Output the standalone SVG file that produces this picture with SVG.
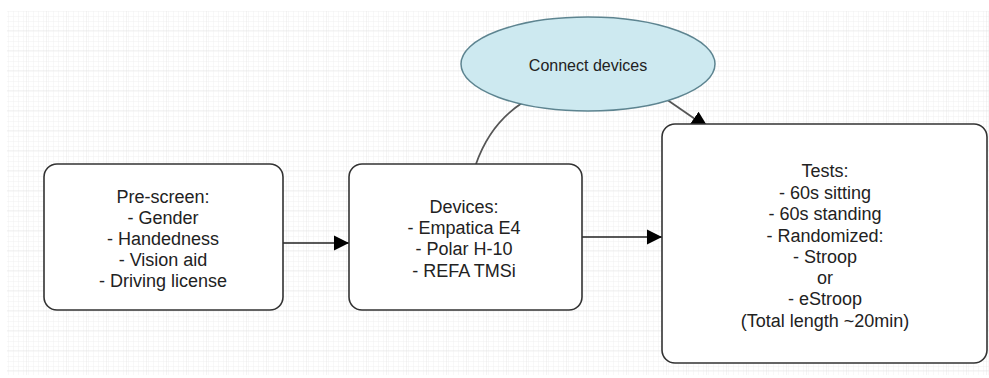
<svg xmlns="http://www.w3.org/2000/svg" width="989" height="378" viewBox="0 0 989 378">
<defs>
<pattern id="minor" width="5" height="5" patternUnits="userSpaceOnUse" x="7" y="11">
<path d="M5 0 V5 M0 5 H5" fill="none" stroke="#ececec" stroke-width="0.8"/>
</pattern>
<pattern id="major" width="20" height="20" patternUnits="userSpaceOnUse" x="7" y="11">
<rect width="20" height="20" fill="url(#minor)"/>
<path d="M20 0 V20 M0 20 H20" fill="none" stroke="#e2e2e2" stroke-width="0.8"/>
</pattern>
<marker id="arrow" markerWidth="16" markerHeight="16" viewBox="0 0 16 16" refX="15" refY="8" orient="auto" markerUnits="userSpaceOnUse">
<path d="M0,0.5 L15,8 L0,15.5 Z" fill="#000"/>
</marker>
<marker id="arrowBig" markerWidth="18" markerHeight="18" viewBox="0 0 18 18" refX="17" refY="9" orient="auto" markerUnits="userSpaceOnUse">
<path d="M0,1 L18,9 L0,17 Z" fill="#000"/>
</marker>
</defs>
<style>
.box{fill:#fff;stroke:#333;stroke-width:1.6}
.lbl{font-family:"Liberation Sans",Arial,sans-serif;font-size:18px;fill:#222;text-anchor:middle}
.small{font-size:16px}
.edge{fill:none;stroke:#222;stroke-width:1.6}
.curve{fill:none;stroke:#555;stroke-width:1.8}
</style>
<rect x="0" y="0" width="989" height="378" fill="#fff"/>
<rect x="7" y="11" width="982" height="364" fill="url(#major)"/>

<g id="connectors">
<path class="edge" d="M283,243 L349,243" marker-end="url(#arrow)"/>
<path class="edge" d="M582,237 L662,237" marker-end="url(#arrow)"/>
<path class="curve" d="M476,164 Q490,124 522,103"/>
<path class="curve" d="M666,99 L708,128" marker-end="url(#arrowBig)"/>
</g>

<g id="connect-devices">
<ellipse cx="588" cy="64" rx="127" ry="47" fill="#cde9f0" stroke="#5d8490" stroke-width="1.5"/>
<text class="lbl small" x="588" y="71">Connect devices</text>
</g>

<g id="pre-screen">
<rect class="box" x="44" y="164" width="239" height="146" rx="13"/>
<text class="lbl" x="163" y="203">Pre-screen:</text>
<text class="lbl" x="163" y="224">- Gender</text>
<text class="lbl" x="163" y="245">- Handedness</text>
<text class="lbl" x="163" y="266">- Vision aid</text>
<text class="lbl" x="163" y="287">- Driving license</text>
</g>

<g id="devices">
<rect class="box" x="349" y="164" width="233" height="146" rx="13"/>
<text class="lbl" x="464" y="213">Devices:</text>
<text class="lbl" x="464" y="234">- Empatica E4</text>
<text class="lbl" x="464" y="255">- Polar H-10</text>
<text class="lbl" x="464" y="277">- REFA TMSi</text>
</g>

<g id="tests">
<rect class="box" x="662" y="124" width="325" height="239" rx="13"/>
<text class="lbl" x="825" y="177">Tests:</text>
<text class="lbl" x="825" y="199">- 60s sitting</text>
<text class="lbl" x="825" y="220">- 60s standing</text>
<text class="lbl" x="825" y="242">- Randomized:</text>
<text class="lbl" x="825" y="263">- Stroop</text>
<text class="lbl" x="825" y="284">or</text>
<text class="lbl" x="825" y="305">- eStroop</text>
<text class="lbl" x="825" y="327">(Total length ~20min)</text>
</g>
</svg>
